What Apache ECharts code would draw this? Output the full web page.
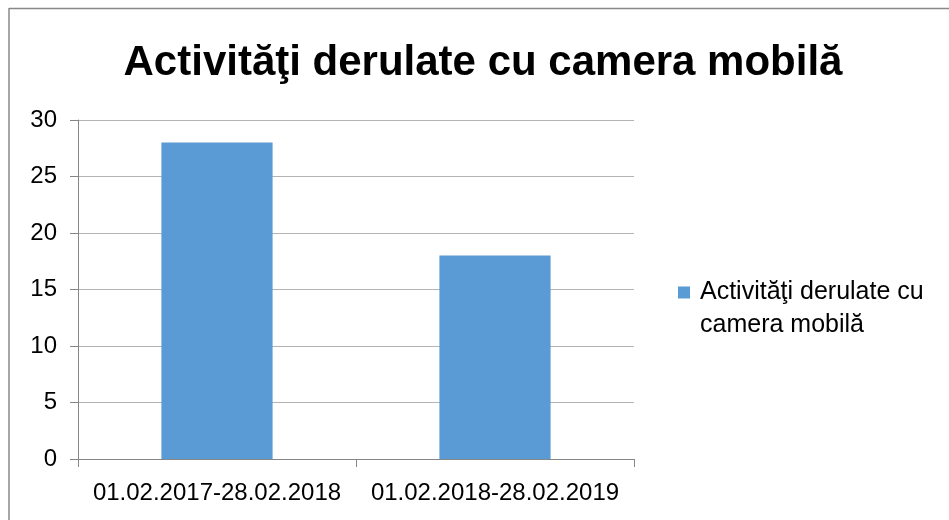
<!DOCTYPE html>
<html><head><meta charset="utf-8">
<script src="https://cdn.jsdelivr.net/npm/echarts@6/dist/echarts.min.js"></script>
<style>html,body{margin:0;padding:0;background:#fff}#c{width:949px;height:520px}</style>
</head><body><div id="c"></div>
<script>
const titleText = 'Activităţi derulate cu camera mobilă';
const categories = ['01.02.2017-28.02.2018', '01.02.2018-28.02.2019'];
const seriesName = 'Activităţi derulate cu camera mobilă';
const values = [28, 18];
const yTicks = {min: 0, max: 30, interval: 5};

const chart = echarts.init(document.getElementById('c'));
const font = 'Liberation Sans';
chart.setOption({
  animation: false,
  backgroundColor: '#fff',
  title: {text: titleText, left: 478, top: 37, textAlign: 'center',
    textStyle: {fontFamily: font, fontWeight: 'bold', fontSize: 42, color: '#000'}},
  grid: {left: 78, right: 315, top: 120, bottom: 61, containLabel: false},
  legend: {orient: 'vertical', left: 678, top: 243, padding: 0, itemWidth: 12, itemHeight: 12, itemGap: 0,
    icon: 'rect',
    formatter: (n) => '\n' + n.replace(' camera', '\ncamera'),
    textStyle: {fontFamily: font, fontSize: 25, color: '#000', lineHeight: 33, padding: [0, 0, 0, 5]}},
  xAxis: {type: 'category', data: categories,
    axisLine: {lineStyle: {color: '#868686', width: 1}},
    axisTick: {show: true, length: 8, lineStyle: {color: '#868686'}},
    axisLabel: {fontFamily: font, fontSize: 24, color: '#000', margin: 22, interval: 0}},
  yAxis: {type: 'value', min: yTicks.min, max: yTicks.max, interval: yTicks.interval,
    axisLine: {show: true, lineStyle: {color: '#868686', width: 1}},
    axisTick: {show: true, length: 8, lineStyle: {color: '#868686'}},
    splitLine: {lineStyle: {color: '#b3b3b3', width: 1}},
    axisLabel: {fontFamily: font, fontSize: 24, color: '#000', margin: 21}},
  series: [{name: seriesName, type: 'bar', data: values, barWidth: '40%',
    itemStyle: {color: '#5b9bd5'}}],
  graphic: [
    {type: 'line', shape: {x1: 9, y1: 8.5, x2: 949, y2: 8.5}, style: {stroke: '#888', lineWidth: 1.5}},
    {type: 'line', shape: {x1: 9, y1: 8, x2: 9, y2: 520}, style: {stroke: '#888', lineWidth: 1.5}}
  ]
});
</script></body></html>
